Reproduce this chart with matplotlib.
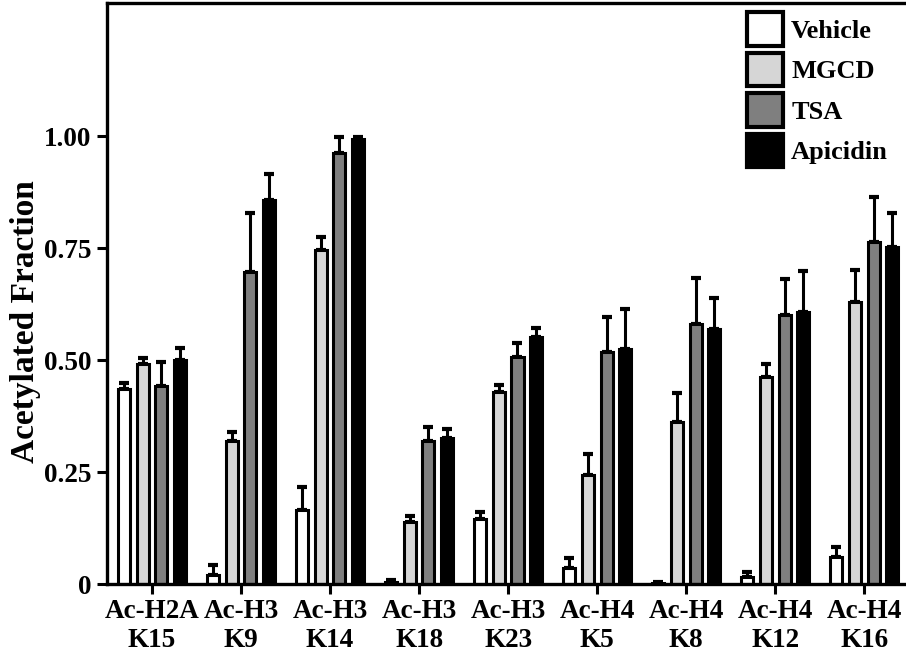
import numpy as np
import matplotlib
matplotlib.use("Agg")
import matplotlib.pyplot as plt

# histone marks (x groups)
marks = ["Ac-H2A\nK15", "Ac-H3\nK9", "Ac-H3\nK14", "Ac-H3\nK18", "Ac-H3\nK23",
         "Ac-H4\nK5", "Ac-H4\nK8", "Ac-H4\nK12", "Ac-H4\nK16"]
treatments = ["Vehicle", "MGCD", "TSA", "Apicidin"]

vehicle = [0.435, 0.020, 0.165, 0.005, 0.145, 0.035, 0.003, 0.016, 0.060]
mgcd = [0.491, 0.319, 0.746, 0.138, 0.429, 0.243, 0.361, 0.462, 0.630]
tsa = [0.442, 0.696, 0.962, 0.319, 0.507, 0.518, 0.580, 0.600, 0.763]
apicidin = [0.500, 0.857, 0.993, 0.326, 0.551, 0.524, 0.569, 0.607, 0.752]

vehicle_err = [0.014, 0.022, 0.052, 0.003, 0.016, 0.023, 0.002, 0.010, 0.022]
mgcd_err = [0.013, 0.020, 0.029, 0.014, 0.015, 0.047, 0.065, 0.029, 0.070]
tsa_err = [0.054, 0.132, 0.036, 0.031, 0.031, 0.078, 0.103, 0.081, 0.101]
apicidin_err = [0.027, 0.058, 0.005, 0.020, 0.020, 0.089, 0.069, 0.092, 0.076]

colors = ["white", "#d6d6d6", "#7f7f7f", "black"]

plt.rcParams["font.family"] = ["Liberation Serif", "DejaVu Serif"]
plt.rcParams["font.weight"] = "bold"

fig = plt.figure(figsize=(9.06, 6.58), dpi=100)
ax = fig.add_axes([107 / 906, 74 / 658, 1 - 107 / 906, (584 - 3) / 658])

x = np.arange(len(marks))
pitch = 0.211
width = 0.135
series = [vehicle, mgcd, tsa, apicidin]
errs = [vehicle_err, mgcd_err, tsa_err, apicidin_err]
for i, (vals, err, c, name) in enumerate(zip(series, errs, colors, treatments)):
    pos = x + (i - 1.5) * pitch
    ax.bar(pos, vals, width, color=c, edgecolor="black", linewidth=2.2,
           label=name, zorder=2)
    ax.errorbar(pos, vals, yerr=[np.zeros(len(vals)), err], fmt="none",
                ecolor="black", elinewidth=2.2, capsize=3.5, capthick=3,
                zorder=1)

ax.set_xlim(-0.506, 8.47)
ax.set_ylim(0, 1.297)
ax.set_yticks([0, 0.25, 0.5, 0.75, 1.0])
ax.set_yticklabels(["0", "0.25", "0.50", "0.75", "1.00"])
ax.set_xticks(x)
ax.set_xticklabels(marks)
ax.tick_params(axis="both", direction="out", length=7, width=2.2,
               labelsize=19.5, pad=4)
ax.set_ylabel("Acetylated Fraction", fontsize=24, fontweight="bold")
ax.yaxis.set_label_coords(-0.082, 0.451)

for s in ["left", "top", "bottom"]:
    ax.spines[s].set_linewidth(2.4)
ax.spines["right"].set_visible(False)

leg = ax.legend(loc="upper left", bbox_to_anchor=(747 / 906, 646 / 658),
                bbox_transform=fig.transFigure, frameon=False, fontsize=19,
                handlelength=1.37, handleheight=1.6, labelspacing=0.25,
                handletextpad=0.3, borderpad=0, borderaxespad=0)
for p in leg.get_patches():
    p.set_linewidth(3)

fig.savefig("out.png", dpi=100)
